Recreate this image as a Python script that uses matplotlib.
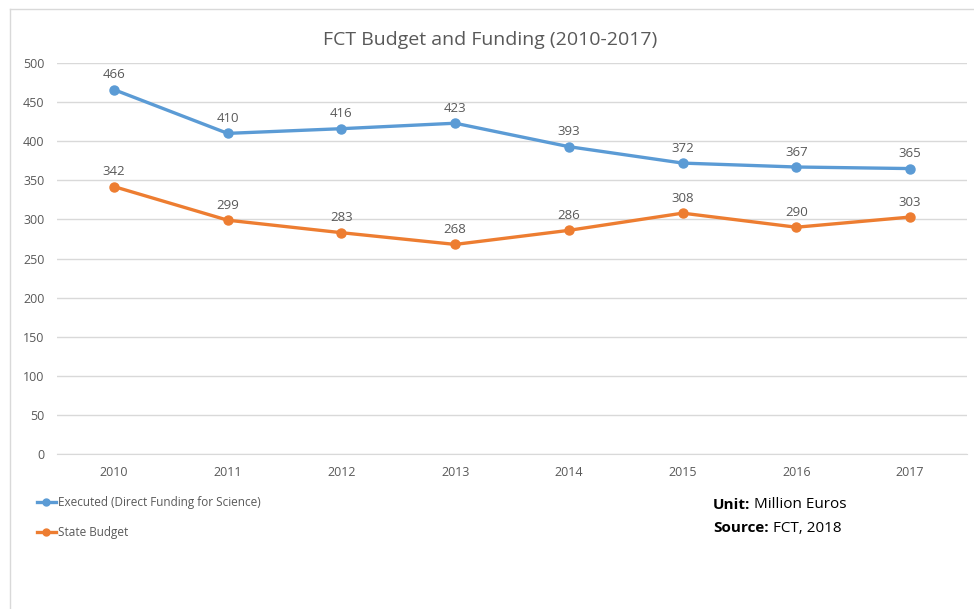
import matplotlib
matplotlib.use("Agg")
import matplotlib.pyplot as plt
from matplotlib.lines import Line2D

years = ["2010", "2011", "2012", "2013", "2014", "2015", "2016", "2017"]
executed = [466, 410, 416, 423, 393, 372, 367, 365]
state_budget = [342, 299, 283, 268, 286, 308, 290, 303]
series_names = ["Executed (Direct Funding for Science)", "State Budget"]
yticks = [0, 50, 100, 150, 200, 250, 300, 350, 400, 450, 500]

BLUE = "#5B9BD5"
ORANGE = "#ED7D31"
GRID = "#d9d9d9"
TXT = "#595959"
FONT = ["Open Sans", "DejaVu Sans"]
plt.rcParams["font.family"] = FONT

fig = plt.figure(figsize=(9.74, 6.09), dpi=100)
ax = fig.add_axes([57/974, 1-454/609, 910/974, 391/609])

x = list(range(len(years)))
for vals, col, name in [(executed, BLUE, series_names[0]), (state_budget, ORANGE, series_names[1])]:
    ax.plot(x, vals, color=col, lw=2.4, marker="o", ms=6.5, label=name, solid_capstyle="round", zorder=3)
    for xi, v in zip(x, vals):
        ax.annotate(str(v), (xi, v), xytext=(0, 6), textcoords="offset points",
                    ha="center", va="bottom", fontsize=9.5, color=TXT)

ax.set_xlim(-0.5, len(years) - 0.5)
ax.set_ylim(0, 500)
ax.set_yticks(yticks)
ax.set_xticks(x)
ax.set_xticklabels(years)
ax.yaxis.grid(True, color=GRID, lw=1)
ax.set_axisbelow(True)
for s in ["top", "right", "left"]:
    ax.spines[s].set_visible(False)
ax.spines["bottom"].set_color(GRID)
ax.tick_params(axis="both", length=0, labelsize=9, labelcolor=TXT)
ax.tick_params(axis="x", pad=9)
ax.tick_params(axis="y", pad=9)

fig.text(0.503, 1-40/609, "FCT Budget and Funding (2010-2017)", ha="center", va="center",
         fontsize=14, color=TXT)

handles = [Line2D([], [], color=BLUE, lw=2.4, marker="o", ms=5),
           Line2D([], [], color=ORANGE, lw=2.4, marker="o", ms=5)]
fig.legend(handles, series_names, loc="upper left", bbox_to_anchor=(32/974, 1-491/609),
           frameon=False, fontsize=8.5, labelcolor=TXT, handlelength=1.6, handletextpad=0.2,
           labelspacing=1.5, borderaxespad=0)

t1 = fig.text(713/974, 1-505/609, "Unit:", fontweight="bold", fontsize=11, va="center", ha="left", color="black")
ax.annotate(" Million Euros", xy=(1, 0.5), xycoords=t1, va="center", ha="left", fontsize=11, color="black")
t2 = fig.text(713/974, 1-528/609, "Source:", fontweight="bold", fontsize=11, va="center", ha="left", color="black")
ax.annotate(" FCT, 2018", xy=(1, 0.5), xycoords=t2, va="center", ha="left", fontsize=11, color="black")

# chart border (left and top visible)
fig.add_artist(Line2D([10/974, 10/974], [0, 1-9/609], transform=fig.transFigure, color=GRID, lw=1))
fig.add_artist(Line2D([10/974, 1], [1-9/609, 1-9/609], transform=fig.transFigure, color=GRID, lw=1))

fig.savefig("out.png", dpi=100)
